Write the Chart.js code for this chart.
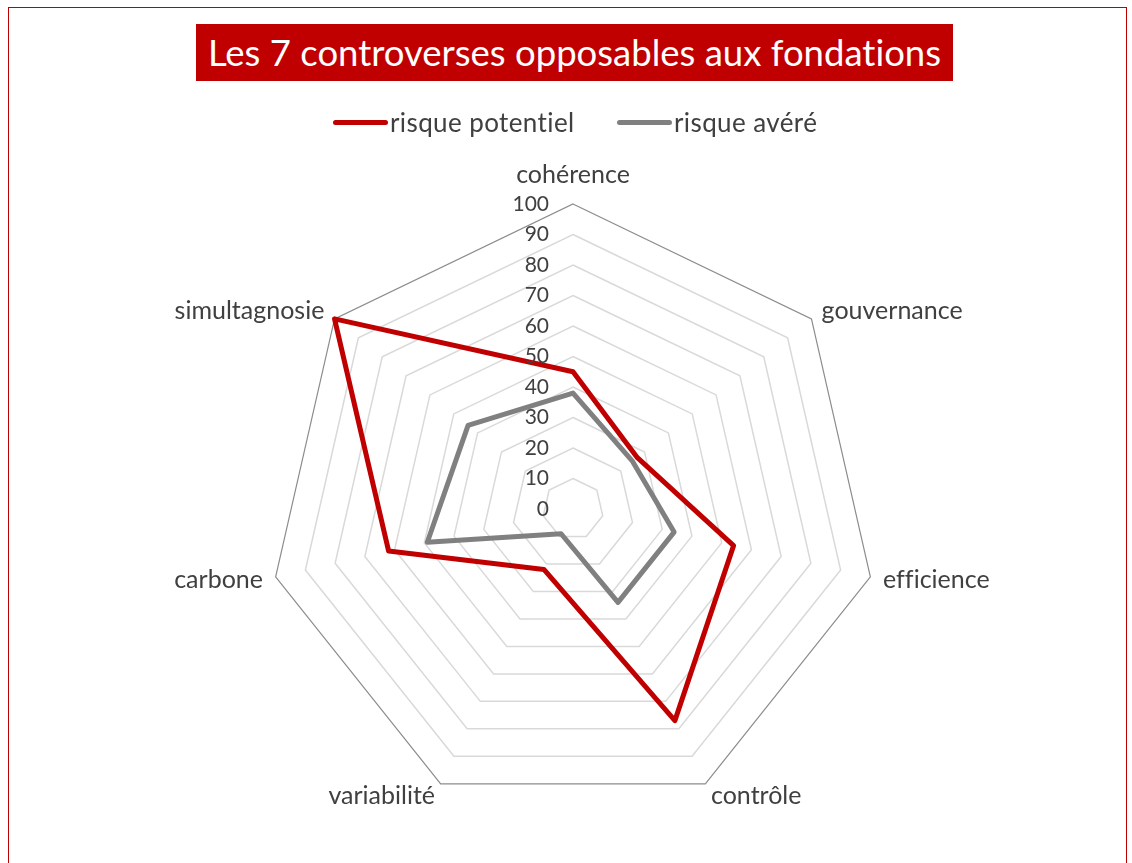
<!DOCTYPE html>
<html>
<head>
<meta charset="utf-8">
<script src="https://cdn.jsdelivr.net/npm/chart.js@4.4.1/dist/chart.umd.min.js"></script>
<style>
  body { margin: 0; background: #fff; font-family: Lato, sans-serif; font-variant-ligatures: none; }
  #wrap { position: relative; width: 1132px; height: 863px; overflow: hidden; }
  #frame { position: absolute; left: 8px; top: 7px; width: 1119px; height: 900px; border: 1px solid #c00000; box-sizing: border-box; }
  #title { position: absolute; left: 196px; top: 24px; width: 757px; height: 57px; background: #c00000; color: #fff;
           font-size: 36.5px; line-height: 57px; text-align: center; white-space: nowrap; }
  .leg { position: absolute; top: 107px; height: 30px; display: flex; align-items: center; font-size: 26px; letter-spacing: 0.4px; color: #404040; white-space: nowrap; }
  .leg span.sw { display: inline-block; width: 55px; height: 5px; border-radius: 3px; margin-right: 2px; }
  #box { position: absolute; left: 0; top: 0; width: 1132px; height: 863px; }
</style>
</head>
<body>
<div id="wrap">
  <div id="frame"></div>
  <div id="box"><canvas id="myChart"></canvas></div>
  <div id="title"></div>
  <div class="leg" id="leg0" style="left:333px"></div>
  <div class="leg" id="leg1" style="left:617px"></div>
</div>
<script>
const chartTitle = 'Les 7 controverses opposables aux fondations'
const categories = ['cohérence', 'gouvernance', 'efficience', 'contrôle', 'variabilité', 'carbone', 'simultagnosie']
const seriesNames = ['risque potentiel', 'risque avéré']
const risquePotentiel = [45, 27, 54, 77, 22, 62, 100]
const risqueAvere = [38, 25, 34, 34, 9, 49, 44]
const tickLabels = [0, 10, 20, 30, 40, 50, 60, 70, 80, 90, 100]

const red = '#c00000'
const grey = '#808080'
const textColor = '#404040'

document.getElementById('title').textContent = chartTitle
// html legend, same colours as the datasets
;[red, grey].forEach((c, i) => {
    const el = document.getElementById('leg' + i)
    el.innerHTML = '<span class="sw" style="background:' + c + '"></span>' + seriesNames[i]
})

// tick numbers and category names, placed with the scale itself
const radarLabels = {
    id: 'radarLabels',
    afterDatasetsDraw(chart) {
        const scale = chart.scales.r
        const ctx = chart.ctx
        ctx.save()
        ctx.fillStyle = textColor
        ctx.font = '21px Lato'
        ctx.textAlign = 'right'
        ctx.textBaseline = 'middle'
        tickLabels.forEach(v => {
            const d = scale.getDistanceFromCenterForValue(v)
            ctx.fillText(String(v), scale.xCenter - 24, scale.yCenter - d)
        })
        ctx.font = '25px Lato'
        categories.forEach((name, i) => {
            const p = scale.getPointPosition(i, scale.drawingArea + 13)
            const dx = p.x - scale.xCenter
            let y = p.y
            if (Math.abs(dx) < 1) {
                ctx.textAlign = 'center'
                y -= 16
            } else if (dx > 0) {
                ctx.textAlign = 'left'
            } else {
                ctx.textAlign = 'right'
            }
            ctx.fillText(name, p.x, y)
        })
        ctx.restore()
    }
}

const data = {
    labels: categories,
    datasets: [{
        label: seriesNames[0],
        data: risquePotentiel,
        borderColor: red,
        backgroundColor: 'transparent',
        borderWidth: 5,
        borderJoinStyle: 'round',
        pointRadius: 0,
        fill: false
    }, {
        label: seriesNames[1],
        data: risqueAvere,
        borderColor: grey,
        backgroundColor: 'transparent',
        borderWidth: 5,
        borderJoinStyle: 'round',
        pointRadius: 0,
        fill: false
    }]
}

const config = {
    type: 'radar',
    data,
    options: {
        responsive: true,
        maintainAspectRatio: false,
        animation: false,
        layout: {
            padding: { left: 268, right: 254, top: 204, bottom: 49 }
        },
        plugins: {
            legend: { display: false },
            title: { display: false },
            tooltip: { enabled: false }
        },
        scales: {
            r: {
                min: 0,
                max: 100,
                ticks: { stepSize: 10, display: false },
                angleLines: { display: false },
                pointLabels: { display: false },
                grid: {
                    color: (c) => c.tick && c.tick.value === 100 ? '#8c8c8c' : '#d9d9d9',
                    lineWidth: (c) => c.tick && c.tick.value === 100 ? 1.2 : 1.5
                }
            }
        }
    },
    plugins: [radarLabels]
}

var chart = new Chart(document.getElementById('myChart'), config)
</script>
</body>
</html>
